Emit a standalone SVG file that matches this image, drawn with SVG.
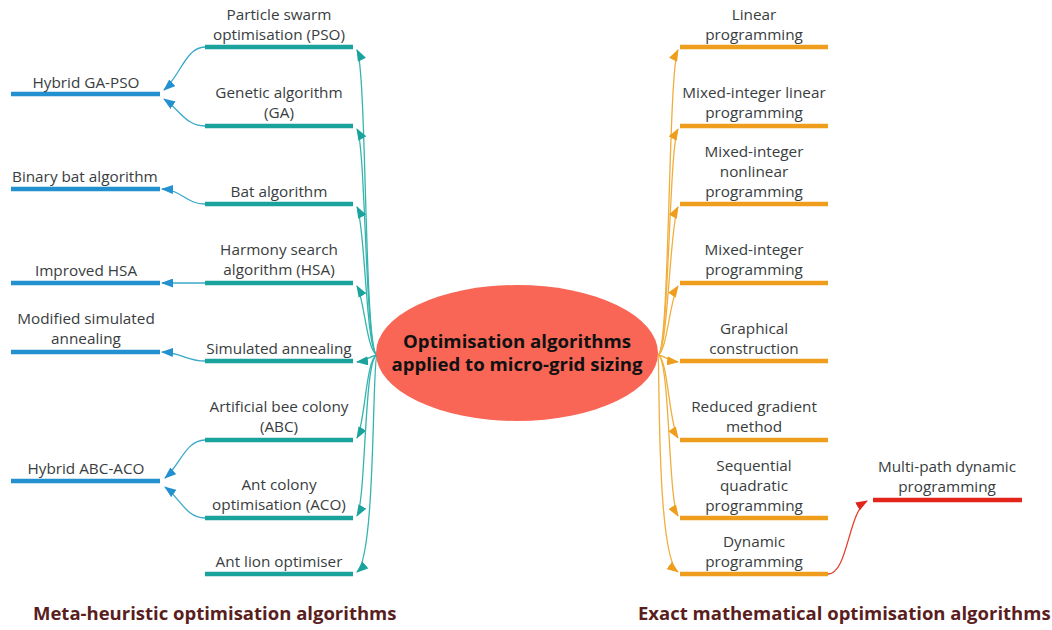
<svg xmlns="http://www.w3.org/2000/svg" width="1052" height="630" viewBox="0 0 1052 630">
  <style>
    .lbl { font-family: "Open Sans", "Noto Sans", "Liberation Sans", sans-serif; font-size: 15.3px; fill: #393d40; text-anchor: middle; }
    .lbl-l { text-anchor: start; }
    .hub { font-family: "Open Sans", "Noto Sans", "Liberation Sans", sans-serif; font-size: 18.6px; font-weight: bold; fill: #111; text-anchor: middle; }
    .title { font-family: "Open Sans", "Noto Sans", "Liberation Sans", sans-serif; font-size: 18.5px; font-weight: bold; fill: #5a1e1e; }
    .bar-teal { stroke: #1aa39c; stroke-width: 4.5; }
    .bar-blue { stroke: #2390d0; stroke-width: 4.5; }
    .bar-orange { stroke: #ee9d1c; stroke-width: 4.5; }
    .bar-red { stroke: #e3241b; stroke-width: 4.5; }
    .c-teal { fill: none; stroke: #35b4ae; stroke-width: 1.3; marker-end: url(#ah-teal); }
    .c-blue { fill: none; stroke: #3aa8c8; stroke-width: 1.3; marker-end: url(#ah-blue); }
    .c-orange { fill: none; stroke: #f0ae3c; stroke-width: 1.3; marker-end: url(#ah-orange); }
    .c-red { fill: none; stroke: #e5402f; stroke-width: 1.3; marker-end: url(#ah-red); }
  </style>
  <defs>
    <marker id="ah-teal" viewBox="0 0 12 9" refX="11" refY="4.5" markerWidth="12" markerHeight="9" markerUnits="userSpaceOnUse" orient="auto">
      <path d="M0,0 L12,4.5 L0,9 z" fill="#1aa39c"/>
    </marker>
    <marker id="ah-blue" viewBox="0 0 12 9" refX="11" refY="4.5" markerWidth="12" markerHeight="9" markerUnits="userSpaceOnUse" orient="auto">
      <path d="M0,0 L12,4.5 L0,9 z" fill="#2390d0"/>
    </marker>
    <marker id="ah-orange" viewBox="0 0 12 9" refX="11" refY="4.5" markerWidth="12" markerHeight="9" markerUnits="userSpaceOnUse" orient="auto">
      <path d="M0,0 L12,4.5 L0,9 z" fill="#ee9d1c"/>
    </marker>
    <marker id="ah-red" viewBox="0 0 12 9" refX="11" refY="4.5" markerWidth="12" markerHeight="9" markerUnits="userSpaceOnUse" orient="auto">
      <path d="M0,0 L12,4.5 L0,9 z" fill="#e3241b"/>
    </marker>
  </defs>

  <rect width="1052" height="630" fill="#ffffff"/>

  <!-- connectors -->
  <g id="connectors">
    <!-- hub to meta-heuristic methods -->
    <path class="c-teal" d="M377,355 C364,352 367,70 357,50"/>
    <path class="c-teal" d="M377,355 C365,352 366,145 357,129"/>
    <path class="c-teal" d="M377,355 C366,352 365,222 357,207"/>
    <path class="c-teal" d="M377,355 C367,352 364,298 357,286"/>
    <path class="c-teal" d="M377,355 C370,356 366,361 357,362"/>
    <path class="c-teal" d="M377,355 C366,358 365,424 357,438"/>
    <path class="c-teal" d="M377,355 C364,358 366,500 357,516"/>
    <path class="c-teal" d="M377,355 C372,360 376,556 357,572"/>
    <!-- meta-heuristic methods to their variants -->
    <path class="c-blue" d="M205,47 C186,47 180,76 164,90"/>
    <path class="c-blue" d="M205,126 C186,126 180,110 164,99"/>
    <path class="c-blue" d="M205,204 C186,204 182,190 162,189"/>
    <path class="c-blue" d="M205,283 L162,283"/>
    <path class="c-blue" d="M205,361 C186,361 183,353 162,352"/>
    <path class="c-blue" d="M205,440 C186,440 180,465 165,478"/>
    <path class="c-blue" d="M205,518 C186,518 180,498 165,487"/>
    <!-- hub to exact methods -->
    <path class="c-orange" d="M658,355 C670,352 668,70 678,50"/>
    <path class="c-orange" d="M658,355 C669,352 669,145 678,129"/>
    <path class="c-orange" d="M658,355 C668,352 670,222 678,207"/>
    <path class="c-orange" d="M658,355 C667,352 670,298 678,286"/>
    <path class="c-orange" d="M658,355 C665,356 669,361 678,362"/>
    <path class="c-orange" d="M658,355 C668,358 669,424 678,438"/>
    <path class="c-orange" d="M658,355 C670,358 668,500 678,516"/>
    <path class="c-orange" d="M658,355 C660,360 656,556 678,572"/>
    <!-- dynamic programming to its variant -->
    <path class="c-red" d="M828,574 C848,574 848,512 867,501"/>
  </g>

  <!-- central hub -->
  <g id="hub">
    <ellipse cx="517" cy="353" rx="141" ry="68" fill="#f96656"/>
    <text class="hub" x="517" y="348">Optimisation algorithms</text>
    <text class="hub" x="517" y="371">applied to micro-grid sizing</text>
  </g>

  <!-- meta-heuristic methods -->
  <g id="pso">
    <line class="bar-teal" x1="205" y1="47" x2="353" y2="47"/>
    <text class="lbl" x="279" y="20">Particle swarm</text>
    <text class="lbl" x="279" y="40">optimisation (PSO)</text>
  </g>
  <g id="ga">
    <line class="bar-teal" x1="205" y1="126" x2="353" y2="126"/>
    <text class="lbl" x="279" y="98">Genetic algorithm</text>
    <text class="lbl" x="279" y="118">(GA)</text>
  </g>
  <g id="bat">
    <line class="bar-teal" x1="205" y1="204" x2="353" y2="204"/>
    <text class="lbl" x="279" y="197">Bat algorithm</text>
  </g>
  <g id="hsa">
    <line class="bar-teal" x1="205" y1="283" x2="353" y2="283"/>
    <text class="lbl" x="279" y="255">Harmony search</text>
    <text class="lbl" x="279" y="275">algorithm (HSA)</text>
  </g>
  <g id="sa">
    <line class="bar-teal" x1="205" y1="361" x2="353" y2="361"/>
    <text class="lbl" x="279" y="354">Simulated annealing</text>
  </g>
  <g id="abc">
    <line class="bar-teal" x1="205" y1="440" x2="353" y2="440"/>
    <text class="lbl" x="279" y="412">Artificial bee colony</text>
    <text class="lbl" x="279" y="432">(ABC)</text>
  </g>
  <g id="aco">
    <line class="bar-teal" x1="205" y1="518" x2="353" y2="518"/>
    <text class="lbl" x="279" y="490">Ant colony</text>
    <text class="lbl" x="279" y="510">optimisation (ACO)</text>
  </g>
  <g id="alo">
    <line class="bar-teal" x1="205" y1="574" x2="353" y2="574"/>
    <text class="lbl" x="279" y="567">Ant lion optimiser</text>
  </g>

  <!-- meta-heuristic variants -->
  <g id="hybrid-ga-pso">
    <line class="bar-blue" x1="11" y1="94" x2="160" y2="94"/>
    <text class="lbl" x="86" y="88">Hybrid GA-PSO</text>
  </g>
  <g id="binary-bat">
    <line class="bar-blue" x1="11" y1="189" x2="160" y2="189"/>
    <text class="lbl lbl-l" x="12" y="182">Binary bat algorithm</text>
  </g>
  <g id="improved-hsa">
    <line class="bar-blue" x1="11" y1="283" x2="160" y2="283"/>
    <text class="lbl" x="86" y="276">Improved HSA</text>
  </g>
  <g id="modified-sa">
    <line class="bar-blue" x1="11" y1="352" x2="160" y2="352"/>
    <text class="lbl" x="86" y="324">Modified simulated</text>
    <text class="lbl" x="86" y="344">annealing</text>
  </g>
  <g id="hybrid-abc-aco">
    <line class="bar-blue" x1="11" y1="481" x2="160" y2="481"/>
    <text class="lbl" x="86" y="474">Hybrid ABC-ACO</text>
  </g>

  <!-- exact methods -->
  <g id="lp">
    <line class="bar-orange" x1="680" y1="47" x2="828" y2="47"/>
    <text class="lbl" x="754" y="20">Linear</text>
    <text class="lbl" x="754" y="40">programming</text>
  </g>
  <g id="milp">
    <line class="bar-orange" x1="680" y1="126" x2="828" y2="126"/>
    <text class="lbl" x="754" y="98">Mixed-integer linear</text>
    <text class="lbl" x="754" y="118">programming</text>
  </g>
  <g id="minlp">
    <line class="bar-orange" x1="680" y1="204" x2="828" y2="204"/>
    <text class="lbl" x="754" y="157">Mixed-integer</text>
    <text class="lbl" x="754" y="177">nonlinear</text>
    <text class="lbl" x="754" y="197">programming</text>
  </g>
  <g id="mip">
    <line class="bar-orange" x1="680" y1="283" x2="828" y2="283"/>
    <text class="lbl" x="754" y="255">Mixed-integer</text>
    <text class="lbl" x="754" y="275">programming</text>
  </g>
  <g id="graphical">
    <line class="bar-orange" x1="680" y1="361" x2="828" y2="361"/>
    <text class="lbl" x="754" y="334">Graphical</text>
    <text class="lbl" x="754" y="354">construction</text>
  </g>
  <g id="rgm">
    <line class="bar-orange" x1="680" y1="440" x2="828" y2="440"/>
    <text class="lbl" x="754" y="412">Reduced gradient</text>
    <text class="lbl" x="754" y="432">method</text>
  </g>
  <g id="sqp">
    <line class="bar-orange" x1="680" y1="518" x2="828" y2="518"/>
    <text class="lbl" x="754" y="471">Sequential</text>
    <text class="lbl" x="754" y="491">quadratic</text>
    <text class="lbl" x="754" y="511">programming</text>
  </g>
  <g id="dp">
    <line class="bar-orange" x1="680" y1="574" x2="828" y2="574"/>
    <text class="lbl" x="754" y="547">Dynamic</text>
    <text class="lbl" x="754" y="567">programming</text>
  </g>

  <!-- exact method variant -->
  <g id="mpdp">
    <line class="bar-red" x1="873" y1="500" x2="1022" y2="500"/>
    <text class="lbl" x="947" y="472">Multi-path dynamic</text>
    <text class="lbl" x="947" y="492">programming</text>
  </g>

  <!-- group titles -->
  <g id="titles">
    <text class="title" x="33" y="620">Meta-heuristic optimisation algorithms</text>
    <text class="title" x="638" y="620">Exact mathematical optimisation algorithms</text>
  </g>
</svg>
